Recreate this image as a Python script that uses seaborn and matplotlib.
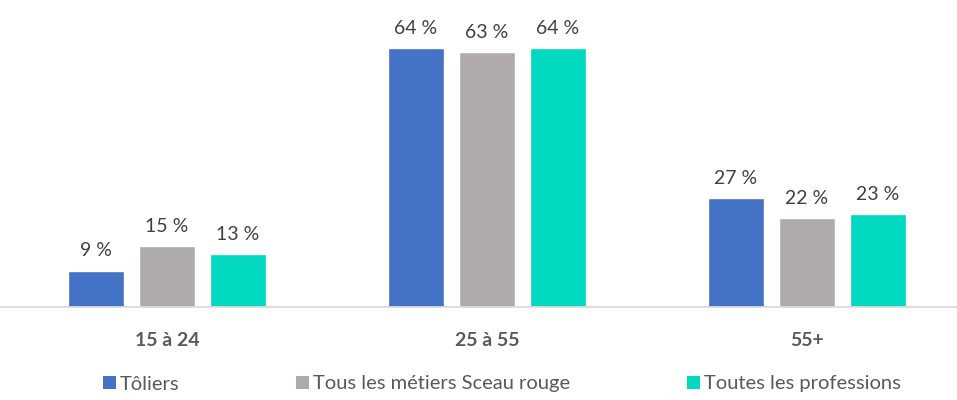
import pandas as pd
import matplotlib.pyplot as plt
import seaborn as sns
from matplotlib.patches import Patch

groupes = ["15 à 24", "25 à 55", "55+"]
series = ["Tôliers", "Tous les métiers Sceau rouge", "Toutes les professions"]
toliers = [9, 64, 27]
sceau_rouge = [15, 63, 22]
toutes = [13, 64, 23]
couleurs = ["#4472C4", "#AFABAB", "#00D9BF"]

rows = []
for serie, vals in zip(series, [toliers, sceau_rouge, toutes]):
    for g, v in zip(groupes, vals):
        rows.append({"Groupe": g, "Série": serie, "Valeur": v})
df = pd.DataFrame(rows)

sns.set_theme(style="white")
plt.rcParams['font.family'] = ['Lato', 'DejaVu Sans']

fig = plt.figure(figsize=(9.57, 4), dpi=100)
ax = fig.add_axes([0, 0.2325, 1, 0.7675])

sns.barplot(data=df, x="Groupe", y="Valeur", hue="Série", palette=couleurs,
            saturation=1, width=0.666, gap=0.2, ax=ax, legend=False, errorbar=None)

for c in ax.containers:
    ax.bar_label(c, labels=[f"{v:.0f} %" for v in c.datavalues],
                 padding=8, fontsize=14, color="#404040")

ax.set_xlim(-167 / 320, 790 / 320)
ax.set_ylim(0, 75.8)
ax.set_yticks([])
ax.set_xlabel("")
ax.set_ylabel("")
for s in ["top", "left", "right"]:
    ax.spines[s].set_visible(False)
ax.spines["bottom"].set_color("#D9D9D9")
ax.tick_params(axis="x", length=0, pad=18)
for lab in ax.get_xticklabels():
    lab.set_fontweight("bold")
    lab.set_fontsize(14)
    lab.set_color("#595959")

handles = [Patch(facecolor=c, edgecolor="none") for c in couleurs]
fig.legend(handles, series, loc="center", bbox_to_anchor=(502 / 957, 1 - 384 / 400),
           ncol=3, frameon=False, fontsize=14.5, handlelength=0.65, handleheight=0.65,
           handletextpad=0.2, columnspacing=5.8, labelcolor="#595959")

fig.savefig("out.png", dpi=100)
